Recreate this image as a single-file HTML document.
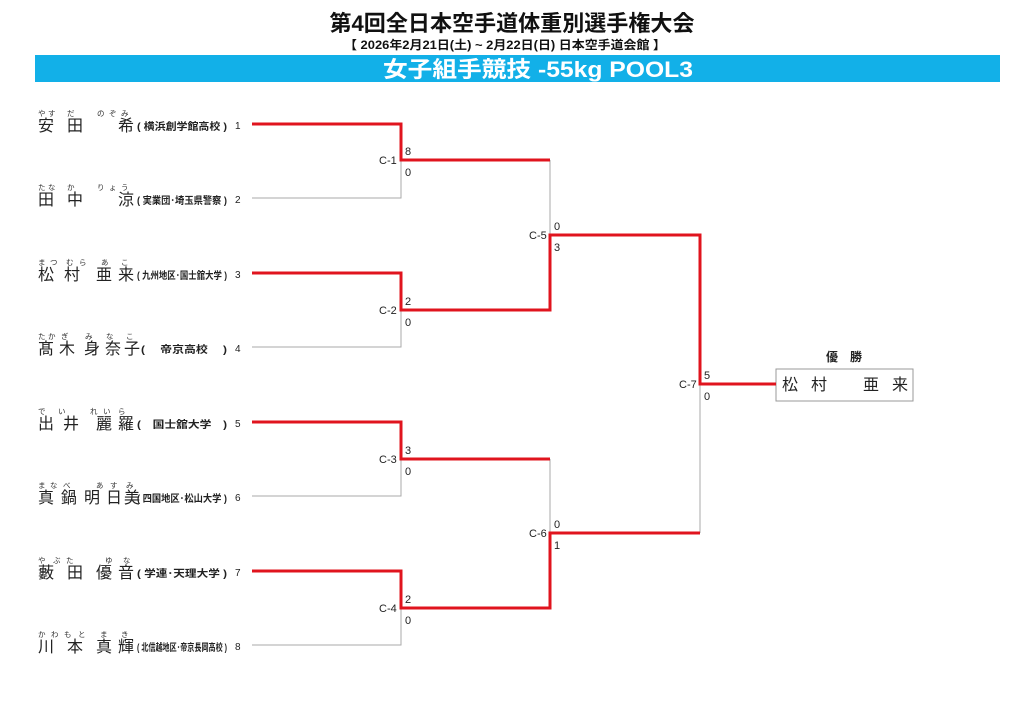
<!DOCTYPE html>
<html><head><meta charset="utf-8"><style>
body{margin:0;background:#fff;width:1024px;height:724px;overflow:hidden}
svg{display:block;font-family:"Liberation Sans","Noto Sans CJK JP",sans-serif}
.n{font-size:16px;fill:#222}
.r{font-size:7.5px;fill:#333}
.a{font-size:10px;fill:#222;font-weight:bold}
.s{font-size:11px;fill:#222}
.g{stroke:#aaa;stroke-width:1;fill:none}
.rd{stroke:#e0141e;stroke-width:3;fill:none}
</style></head><body>
<svg width="1024" height="724" viewBox="0 0 1024 724">
<text x="512" y="31" text-anchor="middle" font-size="22" font-weight="bold" fill="#111" textLength="365" lengthAdjust="spacingAndGlyphs">第4回全日本空手道体重別選手権大会</text>
<text x="505" y="49" text-anchor="middle" font-size="12" font-weight="bold" fill="#111" textLength="322" lengthAdjust="spacingAndGlyphs">【 2026年2月21日(土) ~ 2月22日(日)  日本空手道会館 】</text>
<rect x="35" y="55" width="965" height="27" fill="#12b0e8"/>
<text x="538" y="77" text-anchor="middle" font-size="22" font-weight="bold" fill="#fff" textLength="310" lengthAdjust="spacingAndGlyphs">女子組手競技 -55kg POOL3</text>

<g class="g">
<path d="M252 198H401V124"/><path d="M252 347H401V273"/><path d="M252 496H401V422"/><path d="M252 645H401V571"/>
<path d="M550 160V310"/><path d="M550 459V608"/><path d="M700 235V533"/>
</g>
<rect x="776" y="369" width="137" height="32" fill="#fff" stroke="#999"/>
<g class="rd">
<path d="M252 124H401V160H550"/>
<path d="M252 273H401V310H550V235H700V384H776"/>
<path d="M252 422H401V459H550"/>
<path d="M252 571H401V608H550V533H700"/>
</g>
<g class="s">
<text x="379" y="164">C-1</text><text x="405" y="155">8</text><text x="405" y="176">0</text>
<text x="379" y="314">C-2</text><text x="405" y="305">2</text><text x="405" y="326">0</text>
<text x="379" y="463">C-3</text><text x="405" y="454">3</text><text x="405" y="475">0</text>
<text x="379" y="612">C-4</text><text x="405" y="603">2</text><text x="405" y="624">0</text>
<text x="529" y="239">C-5</text><text x="554" y="230">0</text><text x="554" y="251">3</text>
<text x="529" y="537">C-6</text><text x="554" y="528">0</text><text x="554" y="549">1</text>
<text x="679" y="388">C-7</text><text x="704" y="379">5</text><text x="704" y="400">0</text>
</g>
<text x="844" y="361" text-anchor="middle" font-size="12" font-weight="bold" fill="#222">優　勝</text>
<text class="n" x="782" y="390">松</text><text class="n" x="811" y="390">村</text><text class="n" x="863" y="390">亜</text><text class="n" x="892" y="390">来</text>

<g class="n">
<text y="131"><tspan x="38">安</tspan><tspan x="67">田</tspan><tspan x="118">希</tspan></text>
<text y="205"><tspan x="38">田</tspan><tspan x="67">中</tspan><tspan x="118">涼</tspan></text>
<text y="280"><tspan x="38">松</tspan><tspan x="64">村</tspan><tspan x="96">亜</tspan><tspan x="118">来</tspan></text>
<text y="354"><tspan x="38">髙</tspan><tspan x="59">木</tspan><tspan x="84">身</tspan><tspan x="105">奈</tspan><tspan x="124">子</tspan></text>
<text y="429"><tspan x="38">出</tspan><tspan x="63">井</tspan><tspan x="96">麗</tspan><tspan x="118">羅</tspan></text>
<text y="503"><tspan x="38">真</tspan><tspan x="61">鍋</tspan><tspan x="84">明</tspan><tspan x="106">日</tspan><tspan x="124">美</tspan></text>
<text y="578"><tspan x="38">藪</tspan><tspan x="67">田</tspan><tspan x="96">優</tspan><tspan x="118">音</tspan></text>
<text y="652"><tspan x="38">川</tspan><tspan x="67">本</tspan><tspan x="96">真</tspan><tspan x="118">輝</tspan></text>
</g>
<g class="r">
<text y="116"><tspan x="38">や</tspan><tspan x="48">す</tspan><tspan x="67">だ</tspan><tspan x="97">の</tspan><tspan x="109">ぞ</tspan><tspan x="121">み</tspan></text>
<text y="190"><tspan x="38">た</tspan><tspan x="48">な</tspan><tspan x="67">か</tspan><tspan x="97">り</tspan><tspan x="109">ょ</tspan><tspan x="121">う</tspan></text>
<text y="265"><tspan x="38">ま</tspan><tspan x="50">つ</tspan><tspan x="66">む</tspan><tspan x="79">ら</tspan><tspan x="101">あ</tspan><tspan x="121">こ</tspan></text>
<text y="339"><tspan x="38">た</tspan><tspan x="48">か</tspan><tspan x="61">ぎ</tspan><tspan x="85">み</tspan><tspan x="106">な</tspan><tspan x="126">こ</tspan></text>
<text y="414"><tspan x="38">で</tspan><tspan x="58">い</tspan><tspan x="90">れ</tspan><tspan x="103">い</tspan><tspan x="118">ら</tspan></text>
<text y="488"><tspan x="38">ま</tspan><tspan x="50">な</tspan><tspan x="63">べ</tspan><tspan x="96">あ</tspan><tspan x="110">す</tspan><tspan x="126">み</tspan></text>
<text y="563"><tspan x="38">や</tspan><tspan x="53">ぶ</tspan><tspan x="66">た</tspan><tspan x="105">ゆ</tspan><tspan x="123">な</tspan></text>
<text y="637"><tspan x="38">か</tspan><tspan x="51">わ</tspan><tspan x="64">も</tspan><tspan x="78">と</tspan><tspan x="100">ま</tspan><tspan x="121">き</tspan></text>
</g>
<g class="a">
<text x="137" y="130" textLength="90" lengthAdjust="spacingAndGlyphs">( 横浜創学館高校 )</text>
<text x="137" y="204" textLength="90" lengthAdjust="spacingAndGlyphs">( 実業団･埼玉県警察 )</text>
<text x="137" y="279" textLength="90" lengthAdjust="spacingAndGlyphs">( 九州地区･国士舘大学 )</text>
<text x="141" y="353" textLength="86" lengthAdjust="spacingAndGlyphs">(　 帝京高校　 )</text>
<text x="137" y="428" textLength="90" lengthAdjust="spacingAndGlyphs">(　国士舘大学　)</text>
<text x="137" y="502" textLength="90" lengthAdjust="spacingAndGlyphs">( 四国地区･松山大学 )</text>
<text x="137" y="577" textLength="90" lengthAdjust="spacingAndGlyphs">( 学連･天理大学 )</text>
<text x="137" y="651" textLength="90" lengthAdjust="spacingAndGlyphs">( 北信越地区･帝京長岡高校 )</text>
</g>
<g font-size="10" fill="#222">
<text x="235" y="129">1</text><text x="235" y="203">2</text><text x="235" y="278">3</text><text x="235" y="352">4</text>
<text x="235" y="427">5</text><text x="235" y="501">6</text><text x="235" y="576">7</text><text x="235" y="650">8</text>
</g>
</svg>
</body></html>
